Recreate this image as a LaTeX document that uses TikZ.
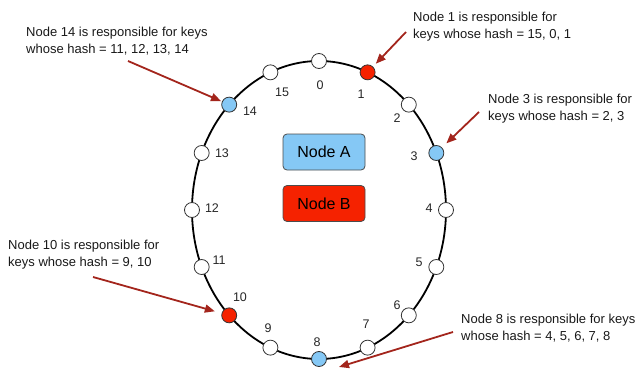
\documentclass[tikz,border=0pt]{standalone}
\usepackage{fontspec}
\setmainfont{Liberation Sans}
\usetikzlibrary{arrows.meta,calc}
\definecolor{ringblue}{HTML}{85C8F5}
\definecolor{ringred}{HTML}{F52200}
\definecolor{arrowred}{HTML}{A3251C}
\begin{document}
\begin{tikzpicture}[x=1pt,y=1pt,
  hashpt/.style={circle,draw=black!80,line width=0.8pt,fill=white,minimum size=15pt,inner sep=0pt},
  ownerblue/.style={hashpt,fill=ringblue},
  ownerred/.style={hashpt,fill=ringred},
  numlabel/.style={font=\fontsize{12.5}{14}\selectfont,text=black!85,inner sep=0pt},
  note/.style={font=\fontsize{13}{17.5}\selectfont,align=left,anchor=west,inner sep=0pt,text=black!90},
  keybox/.style={rounded corners=4pt,draw=black!70,line width=0.8pt,minimum width=82pt,minimum height=36pt,inner sep=0pt,font=\fontsize{16}{18}\selectfont},
  pointer/.style={draw=arrowred,line width=1.8pt,-{Triangle[length=10pt,width=8pt]}}
]
\useasboundingbox (0,0) rectangle (638,-372);

% the hash ring
\draw[line width=1.8pt] (319,-210) ellipse [x radius=127, y radius=149];

% sixteen hash positions, clockwise from the top
\foreach \k/\st in {0/hashpt,1/ownerred,2/hashpt,3/ownerblue,4/hashpt,5/hashpt,6/hashpt,7/hashpt,
                    8/ownerblue,9/hashpt,10/ownerred,11/hashpt,12/hashpt,13/hashpt,14/ownerblue,15/hashpt} {
  \pgfmathsetmacro\ang{90-22.5*\k}
  \node[\st] (n\k) at ({319+127*cos(\ang)},{-210+149*sin(\ang)}) {};
}

% position numbers
\foreach \k/\x/\y in {0/320/85,1/361/94,2/397/118,3/414/156,4/429/208,5/419/262,6/397/305,7/366/324,
                      8/317/342,9/268/328,10/240/297,11/219/260,12/212/208,13/222/153,14/250/111,15/282/92} {
  \node[numlabel] (l\k) at (\x,-\y) {\k};
}

% legend boxes
\node[keybox,fill=ringblue] (nodeA) at (324,-152) {Node A};
\node[keybox,fill=ringred] (nodeB) at (324,-203.5) {Node B};

% annotations
\node[note] (t14) at (26,-41) {Node 14 is responsible for keys\\whose hash = 11, 12, 13, 14};
\node[note] (t1) at (413,-26.5) {Node 1 is responsible for\\keys whose hash = 15, 0, 1};
\node[note] (t3) at (488,-108.5) {Node 3 is responsible for\\keys whose hash = 2, 3};
\node[note] (t10) at (8,-254.5) {Node 10 is responsible for\\keys whose hash = 9, 10};
\node[note] (t8) at (461,-328) {Node 8 is responsible for keys\\whose hash = 4, 5, 6, 7, 8};

% arrow tails and the free tip under node 8
\coordinate (a14) at (128,-61);
\coordinate (a1) at (406,-32);
\coordinate (a3) at (479,-112);
\coordinate (a10) at (93,-277);
\coordinate (a8) at (453,-332);
\coordinate (tip8) at ([shift={(20pt,-8pt)}]n8.center);

\draw[pointer,shorten >=1pt] (a14) -- (n14);
\draw[pointer,shorten >=4pt] (a1) -- (n1);
\draw[pointer,shorten >=6pt] (a3) -- (n3);
\draw[pointer,shorten >=7pt] (a10) -- (n10);
\draw[pointer] (a8) -- (tip8);
\end{tikzpicture}
\end{document}
